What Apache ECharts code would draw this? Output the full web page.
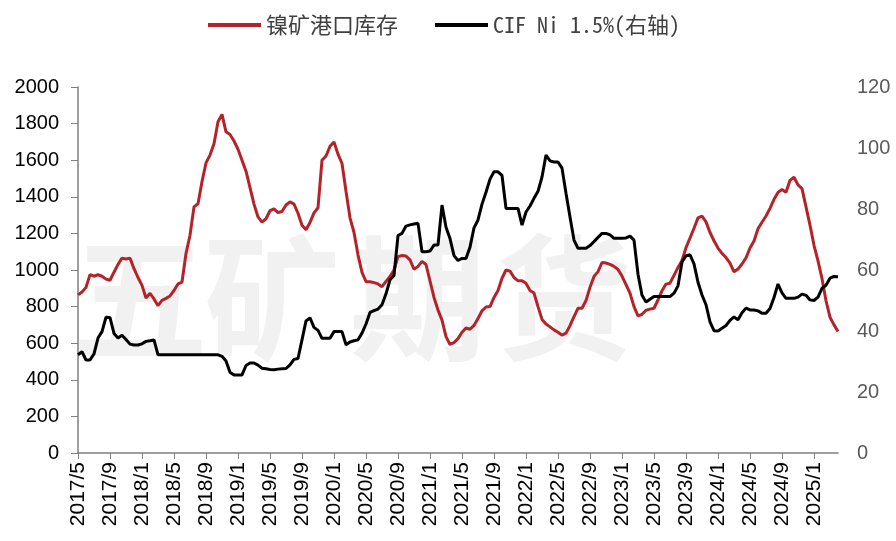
<!DOCTYPE html>
<html>
<head>
<meta charset="utf-8">
<script src="https://cdn.jsdelivr.net/npm/echarts@6/dist/echarts.min.js"></script>
<style>
  html, body { margin: 0; padding: 0; background: #fff; }
  #main { width: 896px; height: 541px; }
</style>
</head>
<body>
<div id="main"></div>
<script>
// 刻度标签（每4个月一个）
var tickLabels = ['2017/5', '2017/9', '2018/1', '2018/5', '2018/9', '2019/1', '2019/5', '2019/9',
  '2020/1', '2020/5', '2020/9', '2021/1', '2021/5', '2021/9', '2022/1', '2022/5', '2022/9',
  '2023/1', '2023/5', '2023/9', '2024/1', '2024/5', '2024/9', '2025/1'];

// 镍矿港口库存（万湿吨），半月一个点，从2017/5开始
var stockData = [
  864, 880, 905, 975, 966, 974, 966, 950, 944, 988,
  1031, 1065, 1060, 1065, 1007, 959, 916, 847, 873, 842,
  805, 834, 845, 858, 888, 924, 934, 1090, 1190, 1345,
  1362, 1483, 1585, 1628, 1690, 1810, 1850, 1755, 1740, 1705,
  1660, 1600, 1540, 1450, 1360, 1290, 1262, 1280, 1324, 1334,
  1314, 1320, 1355, 1372, 1360, 1310, 1245, 1220, 1260, 1312,
  1340, 1600, 1623, 1676, 1700, 1633, 1582, 1430, 1285, 1205,
  1083, 987, 936, 936, 931, 924, 909, 938, 964, 1000,
  1073, 1079, 1076, 1055, 1004, 1020, 1047, 1030, 940, 850,
  781, 726, 636, 593, 603, 625, 660, 683, 676, 697,
  735, 777, 798, 800, 850, 888, 955, 1000, 994, 959,
  941, 941, 927, 888, 874, 800, 730, 705, 689, 673,
  660, 644, 655, 696, 745, 791, 791, 833, 906, 965,
  991, 1041, 1038, 1031, 1020, 1003, 967, 920, 873, 800,
  749, 758, 780, 786, 791, 836, 887, 923, 928, 971,
  1014, 1052, 1122, 1175, 1228, 1285, 1295, 1263, 1205, 1160,
  1120, 1091, 1068, 1038, 990, 1005, 1033, 1066, 1120, 1158,
  1225, 1261, 1295, 1337, 1386, 1424, 1440, 1425, 1490, 1507,
  1465, 1445, 1345, 1245, 1135, 1050, 953, 832, 742, 700,
  664
];

// CIF Ni 1.5%（美元/湿吨，右轴）
var cifData = [
  32.2, 33.2, 30.5, 30.5, 32.5, 37.7, 39.8, 44.5, 44.4, 39.2,
  37.7, 38.6, 37.2, 35.7, 35.4, 35.4, 35.8, 36.6, 36.8, 37.1,
  32.2, 32.2, 32.2, 32.2, 32.2, 32.2, 32.2, 32.2, 32.2, 32.2,
  32.2, 32.2, 32.2, 32.2, 32.2, 32.2, 31.7, 30.2, 26.5, 25.6,
  25.6, 25.6, 28.7, 29.5, 29.5, 28.8, 27.8, 27.6, 27.4, 27.3,
  27.5, 27.6, 27.7, 28.9, 30.7, 31, 37.1, 43.3, 44.3, 41.2,
  40.2, 37.6, 37.6, 37.6, 39.8, 39.8, 39.8, 35.5, 36.4, 36.8,
  37.1, 39.3, 42.3, 46.1, 46.7, 47.2, 48.6, 52.2, 56.8, 58.2,
  71.3, 72, 74.4, 74.8, 75.1, 75.3, 66, 66, 66.2, 68.2,
  68.2, 81.3, 74, 70.3, 64.7, 63.1, 63.8, 63.8, 67.5, 73.8,
  76.4, 81.6, 85.5, 89.8, 92.2, 92.2, 91, 80.2, 80.2, 80.2,
  80.2, 74.7, 79, 81, 83.5, 85.8, 90.5, 97.7, 95.8, 95.4,
  95.4, 93.4, 85.2, 77.4, 69.8, 67.1, 67.1, 67.1, 68, 69.3,
  70.7, 72, 72, 71.5, 70.4, 70.4, 70.4, 70.5, 71.1, 69.8,
  58.6, 51.7, 49.5, 50.4, 51.3, 51.3, 51.3, 51.3, 51.3, 52.4,
  54.8, 62.6, 64.7, 65, 62, 56, 51.8, 48.6, 43, 40.1,
  40, 40.9, 41.8, 43.5, 44.6, 43.7, 46, 47.5, 46.9, 46.9,
  46.6, 45.8, 45.8, 47.4, 51, 55.4, 52.5, 50.7, 50.7, 50.7,
  51.1, 52.1, 51.7, 50.2, 50, 51.1, 54, 55, 57.3, 57.9,
  57.8
];

// 日期类目：每月1日和16日
var dates = [];
var y = 2017, m = 5;
while (dates.length < stockData.length) {
  dates.push(y + '/' + m);
  if (dates.length < stockData.length) dates.push(y + '/' + m + '/16');
  m++;
  if (m > 12) { m = 1; y++; }
}

function isTick(index, value) {
  return tickLabels.indexOf(value) >= 0;
}

var myChart = echarts.init(document.getElementById('main'));
var wmFont = 'bold 136px "Noto Sans CJK SC"';
var option = {
  backgroundColor: '#fff',
  animation: false,
  graphic: [
    { type: 'text', z: 0, x: 72, y: 298, style: { text: '五', font: wmFont, fill: '#f1f1f1', verticalAlign: 'middle' } },
    { type: 'text', z: 0, x: 204, y: 298, style: { text: '矿', font: wmFont, fill: '#f1f1f1', verticalAlign: 'middle' } },
    { type: 'text', z: 0, x: 350, y: 298, style: { text: '期', font: wmFont, fill: '#f1f1f1', verticalAlign: 'middle' } },
    { type: 'text', z: 0, x: 496, y: 298, style: { text: '货', font: wmFont, fill: '#f1f1f1', verticalAlign: 'middle' } }
  ],
  legend: {
    left: 203,
    top: 9,
    icon: 'rect',
    itemWidth: 53,
    itemHeight: 4,
    itemGap: 37,
    textStyle: {
      fontSize: 22,
      color: '#404040',
      fontFamily: '"Noto Sans Mono CJK SC", "Noto Sans CJK SC", monospace'
    },
    data: ['镍矿港口库存', 'CIF Ni 1.5%(右轴)']
  },
  grid: { left: 78, right: 58, top: 87, bottom: 88 },
  xAxis: {
    type: 'category',
    data: dates,
    boundaryGap: false,
    axisLine: { lineStyle: { color: '#7f7f7f', width: 1.5 } },
    axisTick: { interval: isTick, length: 6, lineStyle: { color: '#7f7f7f' } },
    axisLabel: {
      interval: isTick,
      rotate: 90,
      margin: 9,
      fontSize: 21,
      color: '#000',
      fontFamily: '"Liberation Sans", Arial, sans-serif'
    },
    splitLine: { show: false }
  },
  yAxis: [
    {
      type: 'value',
      min: 0,
      max: 2000,
      interval: 200,
      axisLine: { show: true, lineStyle: { color: '#7f7f7f', width: 1.5 } },
      axisTick: { show: true, length: 7, lineStyle: { color: '#7f7f7f' } },
      axisLabel: {
        margin: 19, fontSize: 20, color: '#000',
        fontFamily: '"Liberation Sans", Arial, sans-serif',
        formatter: function (v) { return String(v); }
      },
      splitLine: { show: false }
    },
    {
      type: 'value',
      min: 0,
      max: 120,
      interval: 20,
      position: 'right',
      axisLine: { show: false },
      axisTick: { show: false },
      axisLabel: { margin: 19, fontSize: 20, color: '#595959', fontFamily: '"Liberation Sans", Arial, sans-serif' },
      splitLine: { show: false }
    }
  ],
  series: [
    {
      name: '镍矿港口库存',
      type: 'line',
      yAxisIndex: 0,
      data: stockData,
      showSymbol: false,
      lineStyle: { color: '#B5232A', width: 3 },
      itemStyle: { color: '#B5232A' },
      z: 3
    },
    {
      name: 'CIF Ni 1.5%(右轴)',
      type: 'line',
      yAxisIndex: 1,
      data: cifData,
      showSymbol: false,
      lineStyle: { color: '#000', width: 3 },
      itemStyle: { color: '#000' },
      z: 4
    }
  ]
};
myChart.setOption(option);
</script>
</body>
</html>
